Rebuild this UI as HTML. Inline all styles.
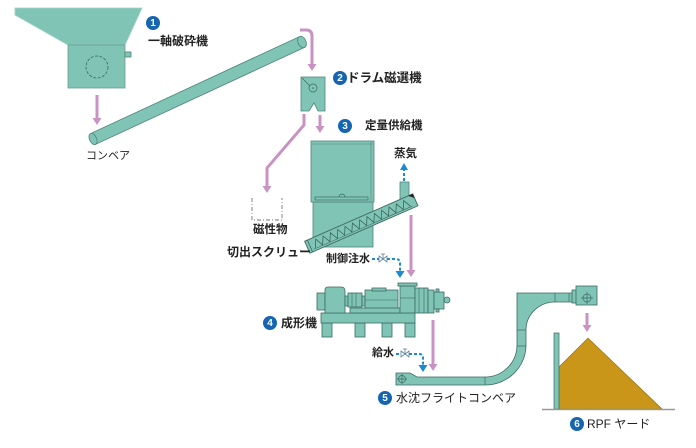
<!DOCTYPE html>
<html><head><meta charset="utf-8"><style>
html,body{margin:0;padding:0;background:#fff;}
svg{display:block;}
text{font-family:"Liberation Sans","Noto Sans CJK JP",sans-serif;fill:#222;}
.b{font-weight:bold;}
.n{fill:#fff;font-weight:bold;font-size:10px;}
</style></head><body>
<svg width="696" height="448" viewBox="0 0 696 448" xmlns="http://www.w3.org/2000/svg">
<defs></defs>
<g fill="#80c4b5" stroke="#4f857b" stroke-width="0.8">
<!-- crusher -->
<polygon points="15,8 142,8 125,45 68,45 15,15" stroke="#9fd3c6"/>
<rect x="68" y="45" width="57" height="43" stroke="#6a9c92"/>
<rect x="125" y="52" width="6" height="5"/>
</g>
<circle cx="97" cy="67" r="11" fill="none" stroke="#3d6a62" stroke-width="0.8" stroke-dasharray="3 1.5"/>

<!-- conveyor -->
<g fill="#80c4b5" stroke="#4f857b" stroke-width="0.8">
<polygon points="90.5,133.6 299.5,36.6 304.5,47.4 95.5,144.4"/>
<ellipse cx="302" cy="42" rx="4" ry="6" transform="rotate(-24.9 302 42)"/>
<ellipse cx="93" cy="139" rx="3.5" ry="6" transform="rotate(-24.9 93 139)"/>
</g>

<!-- pink arrows -->
<g fill="none" stroke="#c893c2" stroke-width="3">
<path d="M97,95 V119"/>
<path d="M300,30 H306 Q312,30 312,36 V65"/>
<path d="M304,114 V125 L267,168 V187"/>
<path d="M320,115 V127"/>
<path d="M411,215 V271"/>
<path d="M433,320 V365"/>
<path d="M587,313 V326"/>
</g>
<g fill="#c893c2">
<polygon points="97,125 92.5,118 101.5,118"/>
<polygon points="312,71 307.5,64 316.5,64"/>
<polygon points="267,193 262.5,186 271.5,186"/>
<polygon points="320,133 315.5,126 324.5,126"/>
<polygon points="411,277 406.5,270 415.5,270"/>
<polygon points="433,371 428.5,364 437.5,364"/>
<polygon points="587,332 582.5,325 591.5,325"/>
</g>

<!-- drum separator -->
<polygon points="301,77 325,77 325,111 318,111 314,103 309,111 301,111" fill="#80c4b5" stroke="#4f857b" stroke-width="0.8"/>
<line x1="302" y1="78" x2="310" y2="86" stroke="#3d6a62" stroke-width="0.7"/>
<circle cx="313" cy="88" r="4" fill="none" stroke="#3d6a62" stroke-width="0.7"/>
<circle cx="313" cy="88" r="0.8" fill="#3d6a62"/>

<!-- magnetic bin -->
<path d="M252,198 V220 H282 V198" fill="none" stroke="#777" stroke-width="0.9" stroke-dasharray="4 2 1 2"/>

<!-- feeder -->
<g fill="#80c4b5" stroke="#4f857b" stroke-width="0.8">
<rect x="313" y="202" width="60" height="45"/>
<rect x="311" y="141" width="63" height="61"/>
<rect x="400" y="182" width="9" height="20"/>
</g>
<line x1="371" y1="142" x2="371" y2="201" stroke="#4f857b" stroke-width="0.6"/>
<line x1="312" y1="144" x2="373" y2="144" stroke="#4f857b" stroke-width="0.5"/>
<rect x="315" y="197" width="53" height="3" fill="none" stroke="#3d6a62" stroke-width="0.7"/>
<path d="M339,197 A3,3 0 0 1 345,197" fill="none" stroke="#3d6a62" stroke-width="0.7"/>

<!-- screw -->
<g transform="translate(310,246) rotate(-23.66)">
<rect x="-3" y="-6.5" width="118" height="13" fill="#80c4b5" stroke="#3d6a62" stroke-width="0.9"/>
<polyline points="4,4 8,-4 12,4 16,-4 20,4 24,-4 28,4 32,-4 36,4 40,-4 44,4 48,-4 52,4 56,-4 60,4 64,-4 68,4 72,-4 76,4 80,-4 84,4 88,-4 92,4 96,-4 100,4 104,-4 108,4" fill="none" stroke="#2f5a53" stroke-width="0.7"/>
<line x1="2" y1="4.5" x2="110" y2="4.5" stroke="#2f5a53" stroke-width="0.5"/>
<line x1="0" y1="-6.5" x2="0" y2="6.5" stroke="#2f5a53" stroke-width="0.7"/>
<polygon points="110,-6.5 115,-6.5 115,-2" fill="#222"/>
</g>

<!-- blue dashed lines -->
<g fill="none" stroke="#1b8ad3" stroke-width="2" stroke-dasharray="3 2">
<path d="M404,181 V170"/>
<path d="M372,259 H379 M387,259 H396 Q400,259 400,263 V271"/>
<path d="M396,354 H401 M409,354 H419 Q423,354 423,358 V366"/>
</g>
<g fill="#1b8ad3">
<polygon points="404,163 400,170 408,170"/>
<polygon points="400,278 395.5,271 404.5,271"/>
<polygon points="423,372 418.5,365 427.5,365"/>
</g>
<g fill="none" stroke="#5a7f96" stroke-width="0.8">
<path d="M379,256 L387,262 L387,256 L379,262 Z"/>
<path d="M383,259 V254 M381,254 H385"/>
<path d="M401,351 L409,357 L409,351 L401,357 Z"/>
<path d="M405,354 V349 M403,349 H407"/>
</g>

<!-- molding machine -->
<g fill="#80c4b5" stroke="#3d6a62" stroke-width="0.8">
<rect x="322" y="323" width="10" height="14"/>
<rect x="355" y="323" width="10" height="14"/>
<rect x="382" y="323" width="10" height="14"/>
<rect x="405" y="323" width="10" height="14"/>
<rect x="321" y="313" width="94" height="10"/>
<rect x="317" y="293" width="8" height="17"/>
<path d="M325,313 V290 Q325,287 328,287 H341 Q345,287 345,291 V313 Z"/>
<rect x="345" y="296" width="3" height="10"/>
<rect x="348" y="293" width="14" height="14"/>
<rect x="362" y="296" width="3" height="10"/>
<rect x="365" y="290" width="33" height="23"/>
<rect x="372" y="288" width="14" height="3"/>
<rect x="350" y="308" width="50" height="5"/>
<rect x="400" y="286" width="15" height="27"/>
<rect x="398" y="283" width="19" height="3"/>
<rect x="415" y="288" width="13" height="25"/>
<rect x="428" y="290" width="6" height="23"/>
<rect x="434" y="292" width="10" height="17"/>
<rect x="436" y="289" width="3" height="3"/>
<rect x="436" y="309" width="3" height="3"/>
<circle cx="447" cy="300" r="3"/>
</g>
<g stroke="#3d6a62" stroke-width="0.6" fill="none">
<line x1="400" y1="298" x2="415" y2="298"/>
<line x1="352" y1="293" x2="352" y2="307"/>
<line x1="356" y1="293" x2="356" y2="307"/>
<line x1="419" y1="288" x2="419" y2="313"/>
<line x1="424" y1="288" x2="424" y2="313"/>
<line x1="365" y1="300" x2="398" y2="300"/>
</g>

<!-- water conveyor -->
<path d="M396,373 H410 L417,377 H485 A32,32 0 0 0 517,345 V293 H577 V302 H555 A29,28 0 0 0 526,330 V345 A41,40 0 0 1 485,385 H396 Z" fill="#80c4b5" stroke="#3d6a62" stroke-width="0.8"/>
<g stroke="#3d6a62" stroke-width="0.7" fill="none">
<line x1="485" y1="377" x2="485" y2="385"/>
<line x1="517" y1="330" x2="526" y2="330"/>
<line x1="517" y1="346" x2="526" y2="346"/>
<line x1="555" y1="293" x2="555" y2="302"/>
<line x1="569" y1="293" x2="569" y2="302"/>
<circle cx="402" cy="379" r="3.5"/>
<path d="M397,379 H407 M402,374 V384"/>
</g>
<g fill="#80c4b5" stroke="#3d6a62" stroke-width="0.8">
<rect x="572" y="290" width="8" height="13"/>
<rect x="576" y="286" width="21" height="19"/>
</g>
<g stroke="#3d6a62" stroke-width="0.7" fill="none">
<circle cx="587" cy="298" r="4"/>
<path d="M581,298 H593 M587,292 V304"/>
</g>

<!-- RPF yard -->
<polygon points="559,367 588,338 662,409 559,409" fill="#c9961a" stroke="#8a6a10" stroke-width="0.6"/>
<rect x="554" y="333" width="5" height="76" fill="#80c4b5" stroke="#3d6a62" stroke-width="0.7"/>
<line x1="542" y1="409.5" x2="675" y2="409.5" stroke="#999" stroke-width="1.5"/>

<!-- label circles -->
<g fill="#1565b0">
<circle cx="153" cy="23" r="7"/>
<circle cx="340" cy="78" r="7"/>
<circle cx="345" cy="126" r="7"/>
<circle cx="270" cy="323" r="7"/>
<circle cx="385" cy="398" r="7"/>
<circle cx="577" cy="424" r="7"/>
</g>
<g text-anchor="middle" dominant-baseline="central">
<text class="n" x="153" y="23.5">1</text>
<text class="n" x="340" y="78.5">2</text>
<text class="n" x="345" y="126.5">3</text>
<text class="n" x="270" y="323.5">4</text>
<text class="n" x="385" y="398.5">5</text>
<text class="n" x="577" y="424.5">6</text>
</g>

<!-- labels -->
<g dominant-baseline="central" font-size="12">
<text class="b" x="148" y="41">一軸破砕機</text>
<text x="86" y="156" font-size="11">コンベア</text>
<text class="b" x="347" y="78" font-size="12.5">ドラム磁選機</text>
<text class="b" x="365" y="126" font-size="11.5">定量供給機</text>
<text class="b" x="394" y="154" font-size="11.5">蒸気</text>
<text class="b" x="253" y="230" font-size="11.5">磁性物</text>
<text class="b" x="227" y="252">切出スクリュー</text>
<text class="b" x="326" y="259" font-size="11">制御注水</text>
<text class="b" x="281" y="323">成形機</text>
<text class="b" x="372" y="353" font-size="11">給水</text>
<text x="396" y="398">水沈フライトコンベア</text>
<text x="587" y="424">RPF ヤード</text>
</g>
</svg>
</body></html>
